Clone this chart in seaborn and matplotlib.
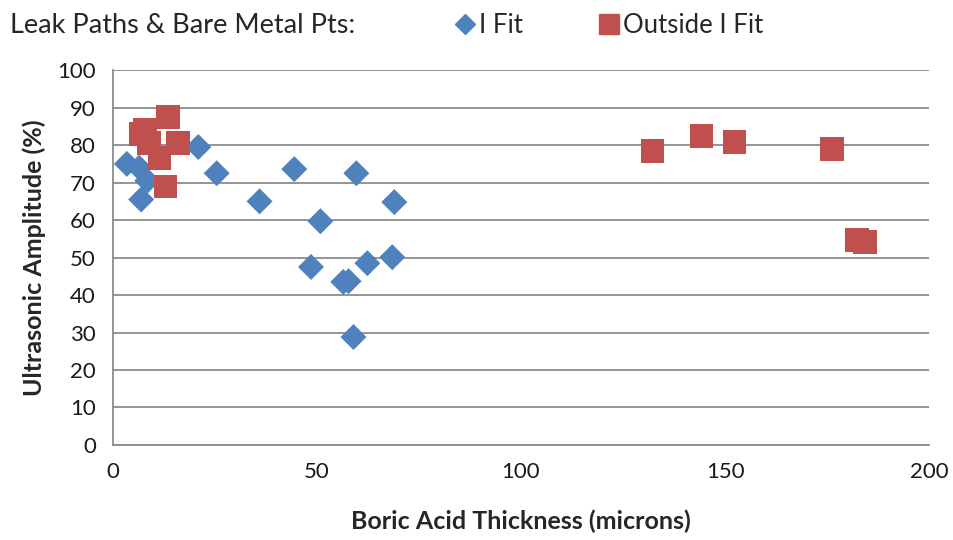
import pandas as pd
import matplotlib
matplotlib.use("Agg")
import matplotlib.pyplot as plt
import seaborn as sns
from matplotlib.lines import Line2D

# I Fit points (blue diamonds)
ifit_x = [3.5, 6.5, 8.5, 7.0, 21.0, 25.5, 36.0, 44.5, 59.7, 69.0, 50.9, 48.6, 56.5, 57.8, 62.4, 68.5, 59.0]
ifit_y = [75.0, 74.0, 70.5, 65.5, 79.5, 72.5, 65.0, 73.6, 72.5, 64.8, 59.7, 47.5, 43.5, 43.7, 48.5, 50.1, 28.8]

# Outside I Fit points (red squares)
out_x = [7.0, 8.0, 9.0, 11.5, 13.0, 13.5, 16.0, 132.2, 144.2, 152.3, 176.2, 182.3, 184.3]
out_y = [83.0, 84.0, 80.5, 76.5, 69.0, 87.5, 80.5, 78.4, 82.4, 80.8, 79.0, 54.7, 54.1]

series_names = ["I Fit", "Outside I Fit"]
x_ticks = [0, 50, 100, 150, 200]
y_ticks = list(range(0, 101, 10))

data = pd.DataFrame({
    'Thickness': ifit_x + out_x,
    'Amplitude': ifit_y + out_y,
    'Series': [series_names[0]] * len(ifit_x) + [series_names[1]] * len(out_x),
})

sns.set_style("white")
plt.rcParams['font.family'] = ['Lato', 'DejaVu Sans']

blue = "#4F81BD"
red = "#C0504D"
grid_c = "#8C8C8C"

fig = plt.figure(figsize=(9.54, 5.4), dpi=100)
ax = fig.add_axes([0.118, 0.176, 0.856, 0.694])

sns.scatterplot(data=data, x='Thickness', y='Amplitude', hue='Series', style='Series',
                palette={series_names[0]: blue, series_names[1]: red},
                markers={series_names[0]: 'D', series_names[1]: 's'},
                size='Series', sizes={series_names[0]: 175, series_names[1]: 290},
                linewidth=0, legend=False, ax=ax, zorder=3)

ax.set_xlim(0, 200)
ax.set_ylim(0, 100)
ax.set_xticks(x_ticks)
ax.set_yticks(y_ticks)
ax.yaxis.grid(True, color=grid_c, linewidth=1.3)
ax.set_axisbelow(True)
for s in ['top', 'right']:
    ax.spines[s].set_visible(False)
for s in ['left', 'bottom']:
    ax.spines[s].set_color(grid_c)
    ax.spines[s].set_linewidth(1.3)
ax.tick_params(axis='both', direction='out', length=6, color=grid_c, width=1.3,
               labelsize=16, labelcolor='#1a1a1a', pad=6)

ax.set_xlabel('Boric Acid Thickness (microns)', fontsize=18, fontweight='bold', labelpad=20)
ax.set_ylabel('Ultrasonic Amplitude (%)', fontsize=18, fontweight='bold', labelpad=8)

fig.text(0.01, 0.953, 'Leak Paths & Bare Metal Pts:', fontsize=19.5, va='center', ha='left')
handles = [
    Line2D([], [], marker='D', linestyle='', color=blue, markersize=10),
    Line2D([], [], marker='s', linestyle='', color=red, markersize=14),
]
fig.legend(handles, series_names, loc='center left', bbox_to_anchor=(0.45, 0.953),
           ncol=2, frameon=False, fontsize=18.5, handletextpad=0.05, columnspacing=2.85,
           handlelength=1.0)

plt.savefig('out.png', dpi=100)
